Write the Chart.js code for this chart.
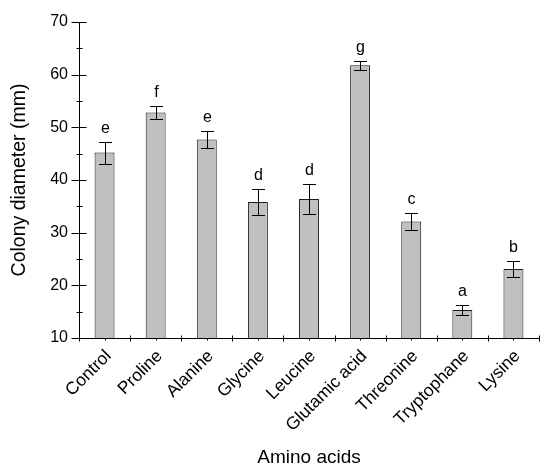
<!DOCTYPE html>
<html>
<head>
<meta charset="utf-8">
<script src="https://cdn.jsdelivr.net/npm/chart.js@4/dist/chart.umd.min.js"></script>
<style>
	html, body { margin: 0; padding: 0; background: #fff; }
	#wrap { width: 540px; height: 468px; }
</style>
</head>
<body>
<div id="wrap"><canvas id="chart" width="540" height="468"></canvas></div>
<script>
const categories = ["Control", "Proline", "Alanine", "Glycine", "Leucine", "Glutamic acid", "Threonine", "Tryptophane", "Lysine"];
const diameters = [45.2, 52.8, 47.7, 35.8, 36.4, 61.8, 32.1, 15.3, 23.1];
const errors = [2.1, 1.2, 1.6, 2.4, 2.9, 0.85, 1.6, 1.0, 1.45];
const letters = ["e", "f", "e", "d", "d", "g", "c", "a", "b"];
const yMajorTicks = [10, 20, 30, 40, 50, 60, 70];
const yMinorTicks = [15, 25, 35, 45, 55, 65];

const FONT = "'Liberation Sans', Arial, sans-serif";

// error bars, significance letters and the axis ticks
const extrasPlugin = {
	id: "extras",
	afterDatasetsDraw(chart) {
		const ctx = chart.ctx;
		const x = chart.scales.x;
		const y = chart.scales.y;
		ctx.save();
		ctx.strokeStyle = "#000";
		ctx.lineWidth = 1;
		ctx.fillStyle = "#000";
		ctx.font = `16px ${FONT}`;
		ctx.textAlign = "center";
		ctx.textBaseline = "alphabetic";
		diameters.forEach((v, i) => {
			const cx = Math.round(x.getPixelForValue(i)) + 0.5;
			const top = Math.round(y.getPixelForValue(v + errors[i])) + 0.5;
			const bot = Math.round(y.getPixelForValue(v - errors[i])) + 0.5;
			ctx.beginPath();
			ctx.moveTo(cx, top);
			ctx.lineTo(cx, bot);
			ctx.moveTo(cx - 6.5, top);
			ctx.lineTo(cx + 6.5, top);
			ctx.moveTo(cx - 6.5, bot);
			ctx.lineTo(cx + 6.5, bot);
			ctx.stroke();
			ctx.fillText(letters[i], cx, top - 10);
		});
		ctx.restore();
	},
	afterDraw(chart) {
		const ctx = chart.ctx;
		const x = chart.scales.x;
		const y = chart.scales.y;
		const area = chart.chartArea;
		const ax = Math.round(area.left) + 0.5;
		const ay = Math.round(area.bottom) + 0.5;
		ctx.save();
		ctx.strokeStyle = "#000";
		ctx.lineWidth = 1;
		ctx.beginPath();
		yMajorTicks.forEach(t => {
			const py = Math.round(y.getPixelForValue(t)) + 0.5;
			ctx.moveTo(ax - 8, py);
			ctx.lineTo(ax + 7, py);
		});
		yMinorTicks.forEach(t => {
			const py = Math.round(y.getPixelForValue(t)) + 0.5;
			ctx.moveTo(ax - 3, py);
			ctx.lineTo(ax + 3, py);
		});
		const step = x.getPixelForValue(1) - x.getPixelForValue(0);
		for (let i = 0; i <= categories.length; i++) {
			const px = Math.round(x.getPixelForValue(i) - step / 2) + 0.5;
			ctx.moveTo(px, ay - 3);
			ctx.lineTo(px, ay + 3);
		}
		categories.forEach((c, i) => {
			const px = Math.round(x.getPixelForValue(i)) + 0.5;
			ctx.moveTo(px, ay);
			ctx.lineTo(px, ay + 2);
		});
		ctx.stroke();
		ctx.restore();
	},
};

const ctx = document.querySelector("#chart").getContext("2d");
const myChart = new Chart(ctx, {
	type: "bar",
	data: {
		labels: categories,
		datasets: [
			{
				data: diameters,
				backgroundColor: "#c0c0c0",
				borderColor: "#1a1a1a",
				borderWidth: 1,
				borderSkipped: "bottom",
				barPercentage: 0.39,
				categoryPercentage: 1,
			},
		],
	},
	options: {
		responsive: false,
		animation: false,
		layout: { padding: { top: 22, right: 1, left: 0, bottom: 0 } },
		plugins: {
			legend: { display: false },
			tooltip: { enabled: false },
		},
		scales: {
			x: {
				grid: { display: true, drawOnChartArea: false, drawTicks: false },
				border: { display: true, color: "#000", width: 1 },
				ticks: {
					autoSkip: false,
					minRotation: 45,
					maxRotation: 45,
					padding: 8,
					labelOffset: 4,
					color: "#000",
					font: { family: FONT, size: 17.5 },
				},
				title: {
					display: true,
					text: "Amino acids",
					color: "#000",
					font: { family: FONT, size: 19, lineHeight: 1 },
					padding: { top: 0, bottom: 1 },
				},
				afterFit(scale) {
					scale.height = 130;
				},
			},
			y: {
				min: 10,
				max: 70,
				grid: { display: true, drawOnChartArea: false, drawTicks: false },
				border: { display: true, color: "#000", width: 1 },
				ticks: {
					stepSize: 10,
					padding: 11,
					color: "#000",
					font: { family: FONT, size: 16 },
				},
				title: {
					display: true,
					text: "Colony diameter (mm)",
					color: "#000",
					font: { family: FONT, size: 19.5 },
					padding: { top: 8, bottom: 0 },
				},
				afterFit(scale) {
					scale.width = 79;
				},
			},
		},
	},
	plugins: [extrasPlugin],
});
</script>
</body>
</html>
